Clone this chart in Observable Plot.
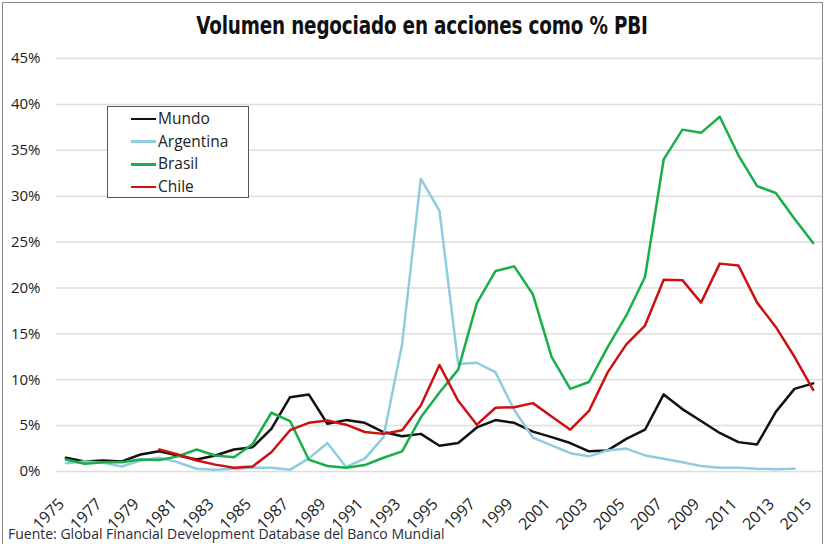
<!DOCTYPE html>
<html>
<head>
<meta charset="utf-8">
<script src="https://cdn.jsdelivr.net/npm/d3@7"></script>
<script src="https://cdn.jsdelivr.net/npm/@observablehq/plot@0.6"></script>
<style>
  html, body { margin: 0; padding: 0; background: #fff; }
  #wrap { position: relative; width: 827px; height: 544px; overflow: hidden; font-family: "Open Sans", sans-serif; }
  #frame { position: absolute; left: 2px; top: 2px; width: 821px; height: 545px; border: 1px solid #8a8a8a; box-sizing: border-box; pointer-events: none; }
  #title { position: absolute; left: 0; width: 844px; top: 11px; text-align: center; font-family: "DejaVu Sans Condensed", "DejaVu Sans", sans-serif; font-stretch: condensed; font-weight: bold; font-size: 25px; color: #111; transform: scaleX(0.817); transform-origin: 422px 0; letter-spacing: -0.2px; }
  #legend { position: absolute; left: 107px; top: 106px; width: 142px; height: 92px; border: 1.5px solid #555; box-sizing: border-box; background: #fff; font-size: 15.5px; color: #222; }
  .item { position: absolute; left: 23px; height: 20px; line-height: 20px; }
  .item span.sw { display: inline-block; width: 25px; height: 2.5px; vertical-align: middle; margin-right: 2px; position: relative; top: -1px; }
  #caption { position: absolute; left: 8px; top: 524px; font-size: 14px; color: #2a2a3a; }
</style>
</head>
<body>
<div id="wrap">
  <div id="chart"></div>
  <div id="title">Volumen negociado en acciones como % PBI</div>
  <div id="legend"></div>
  <div id="caption">Fuente: Global Financial Development Database del Banco Mundial</div>
  <div id="frame"></div>
</div>
<script>
const years = d3.range(1975, 2016);
const seriesNames = ["Mundo", "Argentina", "Brasil", "Chile"];
const seriesColors = ["#111111", "#8FCCDF", "#18AE4A", "#CC1111"];
const xTicks = [1975,1977,1979,1981,1983,1985,1987,1989,1991,1993,1995,1997,1999,2001,2003,2005,2007,2009,2011,2013,2015];
const yTicks = [0,5,10,15,20,25,30,35,40,45];

const mundo = [1.5,1.1,1.2,1.1,1.85,2.2,1.75,1.3,1.75,2.4,
  2.65,4.65,8.1,8.4,5.2,5.6,5.3,4.3,3.85,4.1,
  2.8,3.1,4.8,5.6,5.3,4.35,3.75,3.1,2.2,2.3,
  3.55,4.55,8.4,6.8,5.5,4.2,3.2,2.95,6.5,9.0,9.6];
const argentina = [0.9,1.1,0.95,0.55,1.2,1.5,1.0,0.3,0.2,0.3,
  0.4,0.4,0.2,1.4,3.1,0.5,1.4,3.75,13.9,31.9,
  28.4,11.7,11.85,10.8,6.7,3.7,2.85,2.0,1.65,2.3,
  2.5,1.75,1.4,1.0,0.6,0.4,0.4,0.3,0.25,0.3,null];
const brasil = [1.3,0.85,1.0,1.0,1.3,1.25,1.65,2.4,1.75,1.55,
  3.0,6.4,5.5,1.3,0.6,0.4,0.7,1.5,2.2,5.9,
  8.6,11.1,18.35,21.85,22.35,19.3,12.5,9.0,9.75,13.55,
  17.0,21.2,34.0,37.25,36.9,38.65,34.45,31.1,30.35,27.55,24.9];
const chile = [null,null,null,null,null,2.4,1.85,1.2,0.75,0.4,
  0.55,2.1,4.5,5.3,5.55,5.1,4.3,4.1,4.5,7.2,
  11.6,7.7,5.1,6.95,7.0,7.45,6.0,4.55,6.6,10.8,
  13.85,15.9,20.9,20.85,18.4,22.65,22.45,18.4,15.75,12.5,8.9];

const seriesValues = [mundo, argentina, brasil, chile];
const data = [];
seriesNames.forEach((name, i) => {
  years.forEach((y, j) => {
    const v = seriesValues[i][j];
    if (v != null) data.push({serie: name, year: y, value: v});
  });
});

const chart = Plot.plot({
  width: 827,
  height: 544,
  marginTop: 58,
  marginBottom: 73,
  marginLeft: 56,
  marginRight: 5,
  style: {fontFamily: "'Open Sans', sans-serif", fontSize: "15px", color: "#222", background: "transparent"},
  x: {domain: [1974.5, 2015.5], label: null},
  y: {domain: [0, 45], label: null},
  color: {domain: seriesNames, range: seriesColors},
  marks: [
    Plot.gridY(yTicks, {stroke: "#dedede", strokeOpacity: 1, strokeWidth: 1.5}),
    Plot.axisY(yTicks, {tickSize: 0, tickPadding: 16, tickFormat: d => d + "%", fontSize: 15, label: null}),
    Plot.axisX(xTicks, {tickSize: 0, tickRotate: -45, tickPadding: 20, dx: -4.2, dy: 9.8, tickFormat: d => String(d), fontSize: 16, label: null}),
    Plot.line(data, {x: "year", y: "value", z: "serie", stroke: "serie", strokeWidth: 2.5, curve: "linear"})
  ]
});
document.getElementById("chart").appendChild(chart);

const legend = document.getElementById("legend");
seriesNames.forEach((name, i) => {
  const div = document.createElement("div");
  div.className = "item";
  div.style.top = (1 + i * 22.7) + "px";
  div.innerHTML = `<span class="sw" style="background:${seriesColors[i]}"></span>${name}`;
  legend.appendChild(div);
});
</script>
</body>
</html>
